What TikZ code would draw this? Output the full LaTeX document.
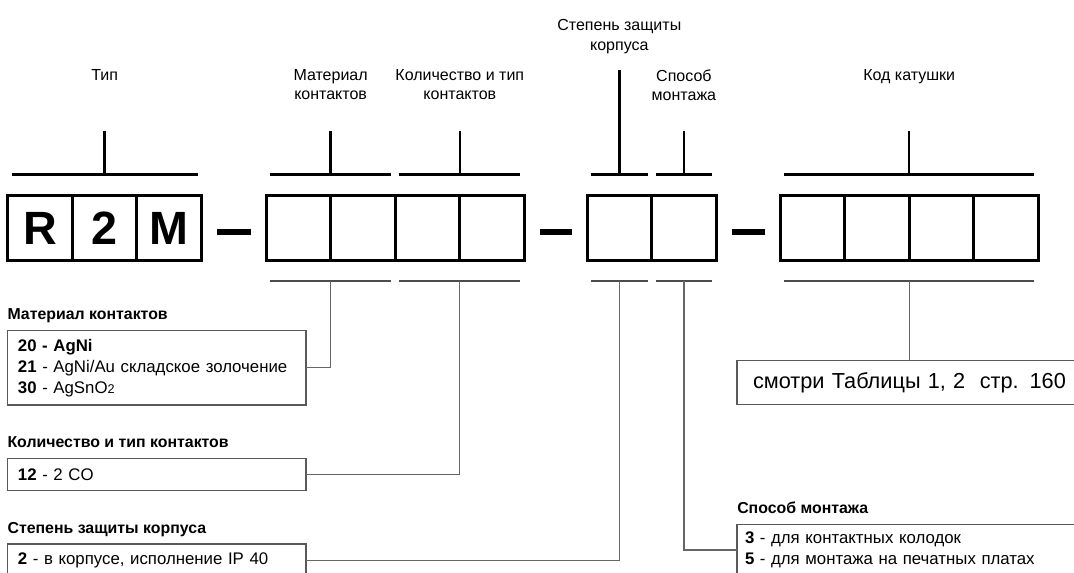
\documentclass[tikz,border=0pt]{standalone}
\usepackage{fontspec}
\setmainfont{Liberation Sans}
\usepackage{xcolor}

\begin{document}
\begin{tikzpicture}[x=0.75pt,y=-0.75pt]
\tikzset{cell/.style={draw,line width=2.25pt,outer sep=0pt,inner sep=0pt,minimum width=48.45pt,minimum height=48.75pt,font=\fontsize{35}{35}\selectfont\bfseries}}
\tikzset{dashbar/.style={line width=5pt}}
\tikzset{toptick/.style={line width=1.8pt}}
\tikzset{bottick/.style={line width=1.1pt,draw=black!70}}
\tikzset{link/.style={line width=0.9pt,draw=black!60}}
\tikzset{toplabel/.style={anchor=north,inner sep=0pt,align=center,font=\fontsize{12}{14.5}\selectfont}}
\tikzset{infobox/.style={draw=black!65,line width=0.9pt,outer sep=0pt,anchor=north west,align=left,font=\fontsize{12.6}{15.8}\selectfont}}
\tikzset{boxtitle/.style={anchor=base west,inner sep=0pt,font=\fontsize{11.9}{13}\selectfont\bfseries}}

\clip (0,0) rectangle (1074,572);

\node[cell] (r) at (40,228) {R};
\node[cell] (two) at (104.6,228) {2};
\node[cell] (m) at (169.2,228) {M};
\foreach \i/\x in {1/298.3,2/362.9,3/427.5,4/492.1}
  \node[cell] (a\i) at (\x,228) {};
\foreach \i/\x in {1/619.3,2/683.9}
  \node[cell] (b\i) at (\x,228) {};
\foreach \i/\x in {1/812.3,2/876.9,3/941.5,4/1006.1}
  \node[cell] (c\i) at (\x,228) {};

\draw[dashbar] ([xshift=11.6pt,yshift=-3pt]m.east) -- ([xshift=-11.6pt,yshift=-3pt]a1.west);
\draw[dashbar] ([xshift=11.6pt,yshift=-3pt]a4.east) -- ([xshift=-11.6pt,yshift=-3pt]b1.west);
\draw[dashbar] ([xshift=11.6pt,yshift=-3pt]b2.east) -- ([xshift=-11.6pt,yshift=-3pt]c1.west);

\draw[toptick] ([xshift=3pt,yshift=15.75pt]r.north west) -- ([xshift=-3pt,yshift=15.75pt]m.north east);
\draw[toptick] ([xshift=3pt,yshift=15.75pt]a1.north west) -- ([xshift=-3pt,yshift=15.75pt]a2.north east);
\draw[toptick] ([xshift=3pt,yshift=15.75pt]a3.north west) -- ([xshift=-3pt,yshift=15.75pt]a4.north east);
\draw[toptick] ([xshift=3pt,yshift=15.75pt]b1.north west) -- ([xshift=-3pt,yshift=15.75pt]b1.north east);
\draw[toptick] ([xshift=3pt,yshift=15.75pt]b2.north west) -- ([xshift=-3pt,yshift=15.75pt]b2.north east);
\draw[toptick] ([xshift=3pt,yshift=15.75pt]c1.north west) -- ([xshift=-3pt,yshift=15.75pt]c4.north east);

\draw[toptick] ([yshift=15.75pt]two.north) -- ([yshift=48.75pt]two.north) coordinate (ttype);
\draw[toptick] ([yshift=15.75pt]a1.north east) -- ([yshift=48.75pt]a1.north east) coordinate (tmat);
\draw[toptick] ([yshift=15.75pt]a3.north east) -- ([yshift=48.75pt]a3.north east) coordinate (tcnt);
\draw[toptick] ([yshift=15.75pt]b1.north) -- ([yshift=94.25pt]b1.north) coordinate (tprot);
\draw[toptick] ([yshift=15.75pt]b2.north) -- ([yshift=48.75pt]b2.north) coordinate (tmount);
\draw[toptick] ([yshift=15.75pt]c2.north east) -- ([yshift=48.75pt]c2.north east) coordinate (tcoil);

\node[toplabel] (ltype) at (ttype |- 0,69) {Тип};
\node[toplabel] (lmat) at (tmat |- 0,69) {Материал\\контактов};
\node[toplabel] (lcnt) at (tcnt |- 0,69) {Количество и тип\\контактов};
\node[toplabel] (lprot) at (tprot |- 0,19.5) {Степень защиты\\корпуса};
\node[toplabel] (lmount) at (tmount |- 0,69) {Способ\\монтажа};
\node[toplabel] (lcoil) at (tcoil |- 0,69) {Код катушки};

\draw[bottick] ([xshift=3pt,yshift=-15.4pt]a1.south west) -- ([xshift=-3pt,yshift=-15.4pt]a2.south east);
\draw[bottick] ([xshift=3pt,yshift=-15.4pt]a3.south west) -- ([xshift=-3pt,yshift=-15.4pt]a4.south east);
\draw[bottick] ([xshift=3pt,yshift=-15.4pt]b1.south west) -- ([xshift=-3pt,yshift=-15.4pt]b1.south east);
\draw[bottick] ([xshift=3pt,yshift=-15.4pt]b2.south west) -- ([xshift=-3pt,yshift=-15.4pt]b2.south east);
\draw[bottick] ([xshift=3pt,yshift=-15.4pt]c1.south west) -- ([xshift=-3pt,yshift=-15.4pt]c4.south east);

\node[infobox,minimum height=55.7pt,text width=208pt,inner xsep=8pt] (mat) at (7.3,330.7)
  {{\bfseries 20 - AgNi}\\ \textbf{21} - AgNi/Au складское золочение\\ \textbf{30} - AgSnO{\fontsize{9.5}{9.5}\selectfont 2}};
\node[infobox,minimum height=24.3pt,text width=208pt,inner xsep=8pt] (cnt) at (7.3,458.3)
  {\textbf{12} - 2 CO};
\node[infobox,minimum height=24.3pt,text width=208pt,inner xsep=8pt] (prot) at (7.3,544)
  {\textbf{2} - в корпусе, исполнение IP 40};
\node[infobox,minimum height=33pt,text width=255.75pt,inner xsep=12pt,font=\fontsize{16.3}{19}\selectfont] (coil) at (737,360.7)
  {смотри Таблицы 1, 2\ \ стр. 160};
\node[infobox,minimum height=38.5pt,text width=268pt,inner xsep=6pt] (mount) at (737,524.3)
  {\textbf{3} - для контактных колодок\\ \textbf{5} - для монтажа на печатных платах};

\node[boxtitle] (matt) at ([yshift=8.25pt]mat.north west) {Материал контактов};
\node[boxtitle] (cntt) at ([yshift=8.25pt]cnt.north west) {Количество и тип контактов};
\node[boxtitle] (prott) at ([yshift=8.25pt]prot.north west) {Степень защиты корпуса};
\node[boxtitle] (mountt) at ([yshift=8.25pt]mount.north west) {Способ монтажа};

\draw[link] ([yshift=-15.4pt]a1.south east) |- (mat.east);
\draw[link] ([yshift=-15.4pt]a3.south east) |- (cnt.east);
\draw[link] ([yshift=-15.4pt]b1.south) |- (prot.east);
\draw[link] ([yshift=-15.4pt]b2.south) |- (mount.west);
\draw[link] ([yshift=-15.4pt]c2.south east) -- (c2.south east |- coil.north);

\end{tikzpicture}
\end{document}
